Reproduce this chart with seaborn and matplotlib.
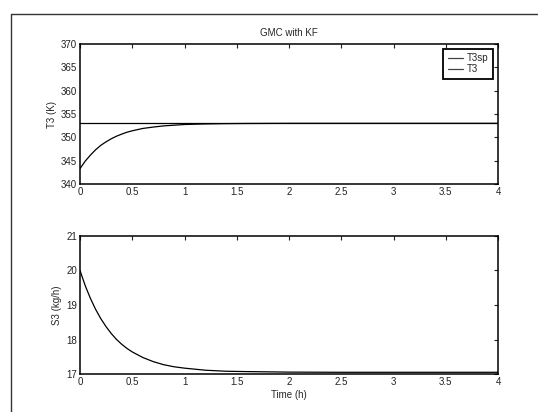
import numpy as np
import pandas as pd
import seaborn as sns
import matplotlib
matplotlib.use("Agg")
import matplotlib.pyplot as plt
from matplotlib.lines import Line2D

# Data
time_h = [0, 0.05, 0.1, 0.15, 0.2, 0.25, 0.3, 0.35, 0.4, 0.45, 0.5, 0.6, 0.7, 0.8,
          0.9, 1.0, 1.2, 1.4, 1.6, 2.0, 2.5, 3.0, 3.5, 4.0]
T3 = [343.3, 344.9, 346.2, 347.35, 348.3, 349.05, 349.7, 350.25, 350.7, 351.1, 351.4,
      351.9, 352.2, 352.45, 352.6, 352.75, 352.87, 352.94, 352.97, 353.0, 353.0, 353.0,
      353.0, 353.0]
T3sp_time = [0, 4]
T3sp = [353.0, 353.0]
S3 = [20.0, 19.56, 19.19, 18.87, 18.6, 18.37, 18.17, 18.0, 17.86, 17.74, 17.64,
      17.48, 17.36, 17.27, 17.21, 17.17, 17.11, 17.08, 17.07, 17.055, 17.05, 17.05,
      17.05, 17.05]

x_ticks = [0, 0.5, 1, 1.5, 2, 2.5, 3, 3.5, 4]
x_ticklabels = ["0", "0.5", "1", "1.5", "2", "2.5", "3", "3.5", "4"]
t3_ticks = [340, 345, 350, 355, 360, 365, 370]
s3_ticks = [17, 18, 19, 20, 21]

sns.set_theme(style="white")
plt.rcParams["font.family"] = ["Liberation Sans", "DejaVu Sans"]
plt.rcParams.update({
    "xtick.direction": "in", "ytick.direction": "in",
    "xtick.top": True, "ytick.right": True,
    "xtick.major.size": 3, "ytick.major.size": 3,
    "xtick.major.width": 0.8, "ytick.major.width": 0.8,
    "xtick.major.pad": 2, "ytick.major.pad": 2,
    "xtick.color": "black", "ytick.color": "black",
    "axes.edgecolor": "black", "axes.linewidth": 1.1,
})

fig = plt.figure(figsize=(5.38, 4.12), dpi=100)
fig.patch.set_facecolor("white")

ax1 = fig.add_axes([0.1487, 0.5534, 0.777, 0.3398])
ax2 = fig.add_axes([0.1487, 0.0922, 0.777, 0.335])

df_sp = pd.DataFrame({"t": T3sp_time, "v": T3sp})
df_t3 = pd.DataFrame({"t": time_h, "v": T3})
df_s3 = pd.DataFrame({"t": time_h, "v": S3})

sns.lineplot(data=df_sp, x="t", y="v", ax=ax1, color="black", lw=0.9, label="T3sp")
sns.lineplot(data=df_t3, x="t", y="v", ax=ax1, color="black", lw=0.9, label="T3")
sns.lineplot(data=df_s3, x="t", y="v", ax=ax2, color="black", lw=0.9, legend=False)

fs_tick = 7
fs_lab = 7

ax1.set_xlim(0, 4)
ax1.set_ylim(340, 370)
ax1.set_xticks(x_ticks)
ax1.set_xticklabels(x_ticklabels)
ax1.set_yticks(t3_ticks)
ax1.set_xlabel("")
ax1.set_ylabel("T3 (K)", fontsize=fs_lab, labelpad=3)
ax1.set_title("GMC with KF", fontsize=fs_lab, pad=6)
ax1.tick_params(labelsize=fs_tick, colors="#222222")

ax2.set_xlim(0, 4)
ax2.set_ylim(17, 21)
ax2.set_xticks(x_ticks)
ax2.set_xticklabels(x_ticklabels)
ax2.set_yticks(s3_ticks)
ax2.set_xlabel("Time (h)", fontsize=fs_lab, labelpad=2)
ax2.set_ylabel("S3 (kg/h)", fontsize=fs_lab, labelpad=3)
ax2.tick_params(labelsize=fs_tick, colors="#222222")

for ax in (ax1, ax2):
    for s in ax.spines.values():
        s.set_visible(True)
        s.set_color("black")

leg = ax1.legend(loc="upper right", fontsize=fs_tick, frameon=True, fancybox=False,
                 edgecolor="black", framealpha=1, handlelength=1.6, handletextpad=0.4,
                 borderaxespad=0.5, borderpad=0.45, labelspacing=0.1)
leg.get_frame().set_linewidth(1.3)
for h in leg.get_lines():
    h.set_color("#444444")

# page frame lines from the scan
fig.add_artist(Line2D([11 / 538, 1.0], [1 - 14 / 412, 1 - 14 / 412],
                      transform=fig.transFigure, color="#333333", lw=1.0))
fig.add_artist(Line2D([11 / 538, 11 / 538], [0.0, 1 - 14 / 412],
                      transform=fig.transFigure, color="#333333", lw=1.0))

fig.savefig("out.png", dpi=100)
